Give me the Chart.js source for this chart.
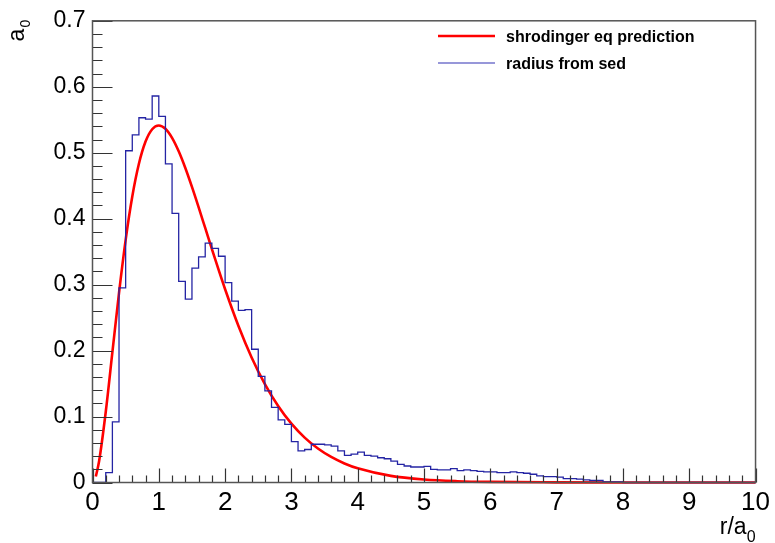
<!DOCTYPE html>
<html>
<head>
<meta charset="utf-8">
<script src="https://cdn.jsdelivr.net/npm/chart.js@4/dist/chart.umd.min.js"></script>
<style>
  html, body { margin: 0; padding: 0; background: #fff; }
  #wrap { width: 775px; height: 543px; }
</style>
</head>
<body>
<div id="wrap"><canvas id="radial_chart"></canvas></div>
<script>
// -------------------
// DATA
// -------------------
// histogram: 100 bins of width 0.1 on r/a0 in [0, 10]
var binWidth = 0.1;
var radiusFromSed = [
    0, 0, 0.015, 0.092, 0.295, 0.503, 0.527, 0.553, 0.551, 0.586,
    0.555, 0.483, 0.408, 0.305, 0.278, 0.325, 0.342, 0.363, 0.355, 0.343,
    0.303, 0.275, 0.261, 0.262, 0.202, 0.161, 0.139, 0.114, 0.095, 0.088,
    0.062, 0.048, 0.050, 0.058, 0.058, 0.057, 0.055, 0.048, 0.041, 0.043,
    0.046, 0.041, 0.040, 0.0375, 0.036, 0.0325, 0.0275, 0.025, 0.0235, 0.0235,
    0.0245, 0.020, 0.019, 0.019, 0.021, 0.018, 0.019, 0.018, 0.017, 0.016,
    0.016, 0.015, 0.015, 0.016, 0.015, 0.014, 0.0125, 0.010, 0.009, 0.009,
    0.008, 0.006, 0.006, 0.005, 0.004, 0.003, 0.003, 0.001, 0.001, 0.001,
    0, 0, 0, 0, 0, 0, 0, 0, 0, 0,
    0, 0, 0, 0, 0, 0, 0, 0, 0, 0
];

// prediction curve samples
var curveR = [
    0.05, 0.1, 0.2, 0.3, 0.4, 0.5, 0.6, 0.7, 0.8, 0.9,
    1.0, 1.1, 1.2, 1.3, 1.4, 1.5, 1.6, 1.7, 1.8, 1.9,
    2.0, 2.2, 2.4, 2.6, 2.8, 3.0, 3.2, 3.4, 3.6, 3.8,
    4.0, 4.5, 5.0, 5.5, 6.0, 7.0, 8.0, 9.0, 10.0
];
var curveP = [
    0.009, 0.0327, 0.1073, 0.1976, 0.2876, 0.3679, 0.4337, 0.4833, 0.5169, 0.5356,
    0.5413, 0.5363, 0.5225, 0.5021, 0.4768, 0.4481, 0.4175, 0.3859, 0.3542, 0.3230,
    0.2930, 0.2377, 0.1896, 0.1492, 0.1160, 0.0892, 0.0681, 0.0515, 0.0387, 0.0289,
    0.0215, 0.0100, 0.0045, 0.0020, 0.0009, 0.0002, 0.0000, 0.0000, 0.0000
];

// axes
var xMin = 0, xMax = 10, xMajor = 1, xMinor = 0.2;
var yMin = 0, yMax = 0.7, yMajor = 0.1, yMinor = 0.02;

var legendLabels = ['shrodinger eq prediction', 'radius from sed'];

// COLORS
const colors = {
    red: '#ff0000',
    blue: '#2424a4',
    blueKey: '#7474cc',
    frame: '#555555',
    tick: '#333333',
};

// -------------------
// BUILD SERIES
// -------------------
var histPoints = radiusFromSed.map(function(v, i) { return { x: +(i * binWidth).toFixed(1), y: v } });
histPoints.push({ x: xMax, y: radiusFromSed[radiusFromSed.length - 1] });

var curvePoints = curveR.map(function(r, i) { return { x: r, y: curveP[i] } });

// -------------------
// PLUGINS
// -------------------
// ROOT-like frame with inner ticks, axis titles and legend box
const frame = {
    id: 'frame',
    afterDraw: function(chart) {
        var c = chart.ctx;
        var a = chart.chartArea;
        var xs = chart.scales.x;
        var ys = chart.scales.y;
        c.save();

        // ticks
        c.strokeStyle = colors.tick;
        c.lineWidth = 1.2;
        c.beginPath();
        var n, v, p, len;
        for (n = 0; n <= Math.round((xMax - xMin) / xMinor); n++) {
            v = xMin + n * xMinor;
            p = Math.round(xs.getPixelForValue(v)) + 0.5;
            len = (n % Math.round(xMajor / xMinor) == 0) ? 14 : 7;
            c.moveTo(p, a.bottom);
            c.lineTo(p, a.bottom - len);
        }
        for (n = 0; n <= Math.round((yMax - yMin) / yMinor); n++) {
            v = yMin + n * yMinor;
            p = Math.round(ys.getPixelForValue(v)) + 0.5;
            len = (n % Math.round(yMajor / yMinor) == 0) ? 20 : 10;
            c.moveTo(a.left, p);
            c.lineTo(a.left + len, p);
        }
        c.stroke();

        // frame box
        c.strokeStyle = colors.frame;
        c.lineWidth = 1.5;
        c.strokeRect(a.left, a.top, a.right - a.left, a.bottom - a.top);

        // x title  r/a0
        c.fillStyle = '#000';
        c.textBaseline = 'alphabetic';
        c.font = "16px 'Liberation Sans', Arial, sans-serif";
        var subW = c.measureText('0').width;
        c.textAlign = 'right';
        c.fillText('0', a.right, 542);
        c.font = "23px 'Liberation Sans', Arial, sans-serif";
        c.fillText('r/a', a.right - subW, 534);

        // y title  a0, read bottom to top
        c.save();
        c.translate(23.5, a.top - 1);
        c.rotate(-Math.PI / 2);
        c.textAlign = 'right';
        c.font = "14px 'Liberation Sans', Arial, sans-serif";
        var subW2 = c.measureText('0').width;
        c.fillText('0', 0, 6.5);
        c.font = "23px 'Liberation Sans', Arial, sans-serif";
        c.fillText('a', -subW2 - 1, 0);
        c.restore();

        // legend
        var keys = [
            { label: legendLabels[0], color: colors.red, width: 2.5, y: 36 },
            { label: legendLabels[1], color: colors.blueKey, width: 1.5, y: 63 },
        ];
        c.font = "bold 16px 'Liberation Sans', Arial, sans-serif";
        c.textAlign = 'left';
        keys.forEach(function(k) {
            c.strokeStyle = k.color;
            c.lineWidth = k.width;
            c.beginPath();
            c.moveTo(438, k.y);
            c.lineTo(495, k.y);
            c.stroke();
            c.fillStyle = '#000';
            c.fillText(k.label, 506, k.y + 5.5);
        });

        c.restore();
    }
};

const whiteBg = {
    id: 'whiteBg',
    beforeDraw: function(chart) {
        var c = chart.ctx;
        c.save();
        c.fillStyle = '#fff';
        c.fillRect(0, 0, chart.width, chart.height);
        c.restore();
    }
};

// OPTIONS
const options = {
    responsive: true,
    maintainAspectRatio: false,
    animation: false,
    layout: {
        padding: { left: 0, right: 17, top: 19, bottom: 0 },
    },
    plugins: {
        legend: { display: false },
        tooltip: { enabled: false },
    },
    elements: {
        point: { radius: 0 },
    },
    scales: {
        x: {
            type: 'linear',
            min: xMin,
            max: xMax,
            grid: { display: false, drawTicks: false },
            border: { display: false },
            ticks: {
                stepSize: xMajor,
                autoSkip: false,
                maxRotation: 0,
                padding: 5,
                color: '#000',
                font: { family: "'Liberation Sans Narrow', 'Liberation Sans', Arial, sans-serif", size: 26 },
            },
            afterFit: function(scale) { scale.height = 60.5; },
        },
        y: {
            min: yMin,
            max: yMax,
            grid: { display: false, drawTicks: false },
            border: { display: false },
            ticks: {
                stepSize: yMajor,
                padding: 7,
                color: '#000',
                font: { family: "'Liberation Sans', Arial, sans-serif", size: 23 },
                callback: function(value) {
                    return value == 0 ? '0' : value.toFixed(1);
                },
            },
            afterFit: function(scale) { scale.width = 92.5; },
        },
    },
};

var ctx = document.getElementById('radial_chart').getContext('2d');

var myChart = new Chart(ctx, {
    type: 'line',
    data: {
        datasets: [
            {
                label: legendLabels[1],
                data: histPoints,
                borderColor: colors.blue,
                borderWidth: 1.3,
                // hold each bin value across its width, then step
                stepped: 'before',
                fill: false,
                clip: 2,
            },
            {
                label: legendLabels[0],
                data: curvePoints,
                borderColor: colors.red,
                borderWidth: 2.6,
                cubicInterpolationMode: 'monotone',
                fill: false,
                clip: 3,
            },
        ],
    },
    options: options,
    plugins: [whiteBg, frame],
});
</script>
</body>
</html>
